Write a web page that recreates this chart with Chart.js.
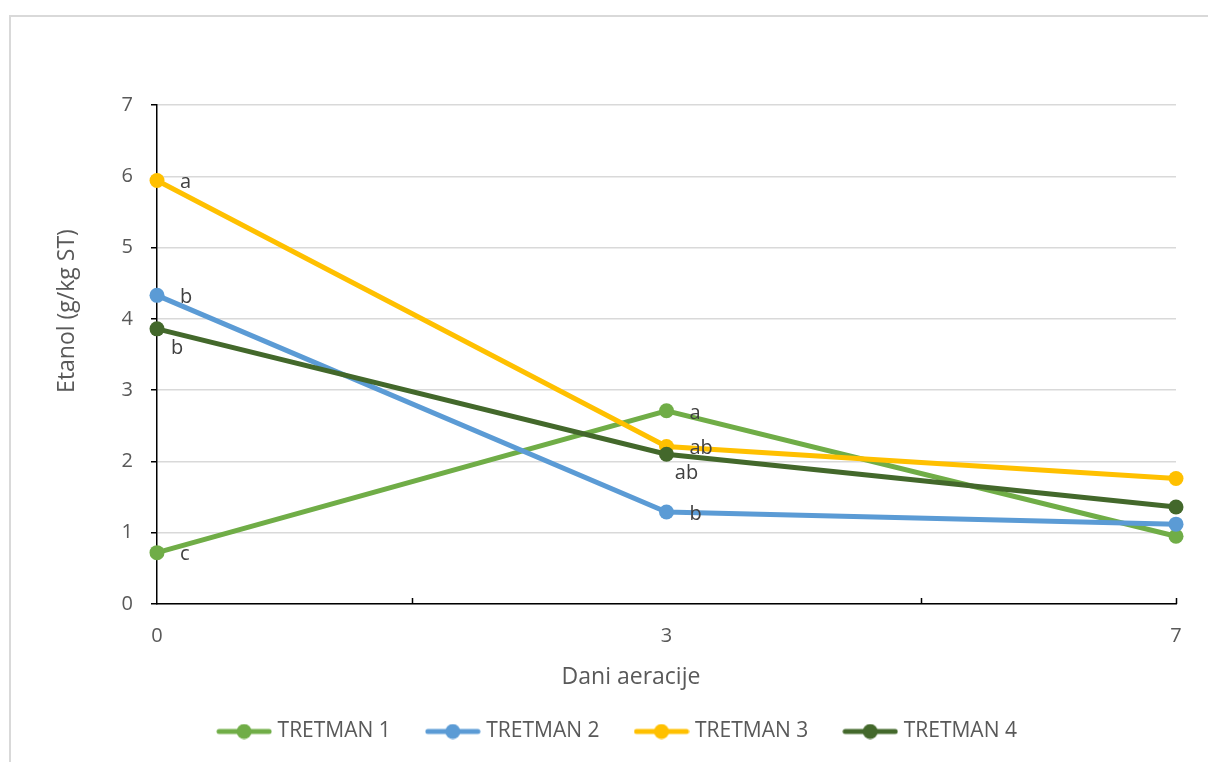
<!DOCTYPE html>
<html>
<head>
<meta charset="utf-8">
<script src="https://cdn.jsdelivr.net/npm/chart.js@4/dist/chart.umd.min.js"></script>
<style>
  html,body{margin:0;padding:0;background:#fff}
  #wrap{width:1208px;height:762px;position:relative}
</style>
</head>
<body>
<div id="wrap"><canvas id="chart" width="1208" height="762"></canvas></div>
<script>
// days of aeration (category axis)
const days = ['0','3','7'];
const seriesNames = ['TRETMAN 1','TRETMAN 2','TRETMAN 3','TRETMAN 4'];
const tretman1 = [0.72, 2.71, 0.95];
const tretman2 = [4.33, 1.29, 1.12];
const tretman3 = [5.94, 2.21, 1.76];
const tretman4 = [3.86, 2.10, 1.36];
// significance letters per series, per day ('' = none)
const letters1 = ['c','a',''];
const letters2 = ['b','b',''];
const letters3 = ['a','ab',''];
const letters4 = ['b','ab',''];
const yTicks = [0,1,2,3,4,5,6,7];

const colors = ['#70AD47','#5B9BD5','#FFC000','#43682B'];
const labelSide = ['right','right','right','below'];
const font = '"Open Sans", sans-serif';
const grey = '#595959';

function legendIcon(col){
  const c=document.createElement('canvas'); c.width=56; c.height=16;
  const g=c.getContext('2d');
  g.strokeStyle=col; g.lineWidth=5; g.lineCap='round';
  g.beginPath(); g.moveTo(3,8); g.lineTo(53,8); g.stroke();
  g.fillStyle=col; g.beginPath(); g.arc(28,8,7.5,0,Math.PI*2); g.fill();
  return c;
}

const allData=[tretman1,tretman2,tretman3,tretman4];
const allLetters=[letters1,letters2,letters3,letters4];
const datasets=seriesNames.map((n,i)=>({
  label:n, data:allData[i], borderColor:colors[i], backgroundColor:colors[i],
  borderWidth:5, pointRadius:7.5, pointHoverRadius:7.5, pointBorderWidth:0,
  tension:0, clip:false, order:4-i
}));

const extras={
  id:'extras',
  beforeDraw(chart){
    const ctx=chart.ctx; ctx.save();
    ctx.strokeStyle='#d9d9d9'; ctx.lineWidth=2;
    ctx.strokeRect(10,16,1400,1000);
    ctx.restore();
  },
  afterDraw(chart){
    const ctx=chart.ctx, x=chart.scales.x, ca=chart.chartArea;
    ctx.save();
    // minor tick marks on the x axis
    ctx.strokeStyle='#000'; ctx.lineWidth=1.5;
    [0.5,1.5,2].forEach(v=>{
      const px=Math.round(x.getPixelForValue(v))+0.5;
      ctx.beginPath(); ctx.moveTo(px,ca.bottom); ctx.lineTo(px,ca.bottom-6); ctx.stroke();
    });
    // axis titles
    ctx.fillStyle=grey; ctx.font='23px '+font; ctx.textAlign='center'; ctx.textBaseline='middle';
    ctx.fillText('Dani aeracije',631,677);
    ctx.translate(67,311); ctx.rotate(-Math.PI/2);
    ctx.fillText('Etanol (g/kg ST)',0,0);
    ctx.restore();
  },
  afterDatasetsDraw(chart){
    const ctx=chart.ctx; ctx.save();
    ctx.fillStyle='#404040'; ctx.font='20px '+font; ctx.textBaseline='middle';
    allLetters.forEach((ls,i)=>{
      const meta=chart.getDatasetMeta(i);
      ls.forEach((t,j)=>{
        if(!t)return;
        const p=meta.data[j];
        if(labelSide[i]==='below'){ctx.textAlign='center';ctx.fillText(t,p.x+20,p.y+19);}
        else{ctx.textAlign='left';ctx.fillText(t,p.x+23,p.y+2);}
      });
    });
    ctx.restore();
  }
};

new Chart(document.getElementById('chart'),{
  type:'line',
  data:{labels:days,datasets},
  options:{
    responsive:false, animation:false,
    layout:{padding:{top:105,right:32,bottom:10,left:62}},
    plugins:{
      tooltip:{enabled:false},
      legend:{
        position:'bottom',
        labels:{
          usePointStyle:true, pointStyleWidth:46, padding:39,
          color:grey, font:{family:font,size:21},
          generateLabels:(chart)=>chart.data.datasets.map((d,i)=>({
            text:d.label, pointStyle:legendIcon(colors[i]), fillStyle:colors[i],
            strokeStyle:colors[i], lineWidth:0, fontColor:grey, hidden:false, datasetIndex:i
          }))
        }
      }
    },
    scales:{
      x:{
        type:'category', offset:false,
        grid:{display:false,drawTicks:false},
        border:{display:true,color:'#000',width:1.5},
        ticks:{color:grey,font:{family:font,size:20},padding:20,maxRotation:0},
        afterFit:s=>{s.height=78;}
      },
      y:{
        min:0,max:7,
        afterBuildTicks:s=>{s.ticks=yTicks.map(v=>({value:v}));},
        grid:{color:'#d9d9d9',lineWidth:1.5,tickLength:6,tickColor:'#000',tickWidth:1.5},
        border:{display:true,color:'#000',width:1.5},
        ticks:{color:grey,font:{family:font,size:20},padding:18},
        afterFit:s=>{s.width=95;}
      }
    }
  },
  plugins:[extras]
});
</script>
</body>
</html>
